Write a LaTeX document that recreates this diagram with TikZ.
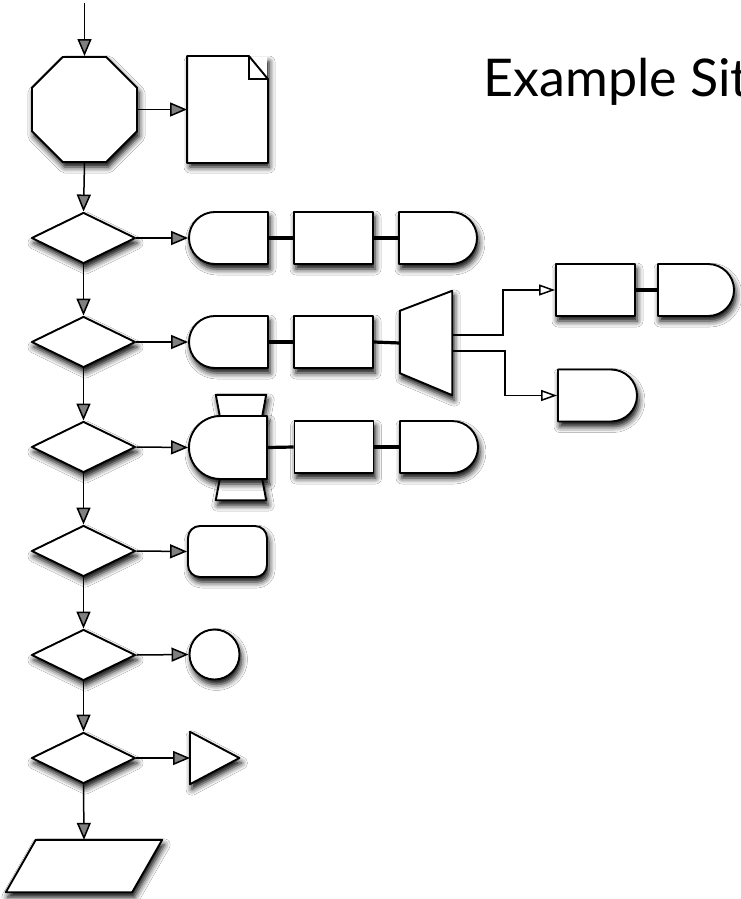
\documentclass[tikz,border=0pt]{standalone}
\usepackage{fontspec}
\setsansfont{Lato}
\usetikzlibrary{shapes.geometric, shapes.misc, arrows.meta, shadows.blur}

\tikzstyle{block} = [draw, fill=white, line width=1.9pt, inner sep=0pt, line join=round,
  blur shadow={shadow xshift=2pt, shadow yshift=-5pt, shadow blur radius=6pt, shadow opacity=100}]
\tikzstyle{unit} = [block, rectangle, minimum width=79pt, minimum height=52pt]
\tikzstyle{dleft} = [block, rounded rectangle, rounded rectangle east arc=none, minimum width=79pt, minimum height=52pt]
\tikzstyle{dright} = [block, rounded rectangle, rounded rectangle west arc=none, minimum width=78pt, minimum height=52pt]
\tikzstyle{decision} = [block, diamond, minimum width=104pt, minimum height=51pt]
\tikzstyle{frame} = [inner sep=0pt, draw=none]
\tikzstyle{flow} = [-{Triangle[length=17pt,width=14pt]}, line width=1.5pt]
\tikzstyle{branch} = [-{Triangle[open,length=16pt,width=11pt]}, line width=1.5pt]
\tikzstyle{link} = [line width=3.2pt]

\begin{document}
\begin{tikzpicture}[x=1pt, y=-1pt]
  \clip (0,0) rectangle (741,899);
  \fill[white] (0,0) rectangle (741,899);

  \node[anchor=base west, font=\sffamily\fontsize{52}{52}\selectfont] (title) at (480,96) {Example Site};

  % start
  \coordinate (start) at (84.5,3);
  \node[block, regular polygon, regular polygon sides=8, minimum size=113.7pt] (stop) at (84.5,109.5) {};
  \node[block, draw=none, minimum width=79pt, minimum height=105pt] (doc) at (227.5,109.5) {};
  \draw[line width=1.9pt, line join=round] (doc.north west) -- ([xshift=-19pt]doc.north east)
    -- ([yshift=-23pt]doc.north east) -- (doc.south east) -- (doc.south west) -- cycle;
  \draw[line width=1.3pt] ([xshift=-19pt]doc.north east) -- ([xshift=-19pt,yshift=-23pt]doc.north east)
    -- ([yshift=-23pt]doc.north east);

  % row 1
  \node[decision] (q1) at (83.5,238) {};
  \node[dleft] (r1a) at (228.5,238) {};
  \node[unit] (r1b) at (333.5,238) {};
  \node[dright] (r1c) at (438,238) {};

  % row 2
  \node[decision] (q2) at (83.5,342) {};
  \node[dleft] (r2a) at (228.5,342) {};
  \node[unit] (r2b) at (333.5,342) {};
  \node[frame, minimum width=52pt, minimum height=104pt] (mux) at (426,343) {};
  \draw[block] ([yshift=-20pt]mux.north west) -- (mux.north east) -- (mux.south east)
    -- ([yshift=22pt]mux.south west) -- cycle;
  \node[unit] (r2c) at (595.5,290) {};
  \node[dright, minimum width=76pt] (r2d) at (696,290) {};
  \node[dright, minimum width=79pt] (r2e) at (597.5,395.5) {};

  % row 3
  \node[decision] (q3) at (83.5,447) {};
  \node[frame, minimum width=50pt, minimum height=21pt] (fintop) at (241,405.5) {};
  \draw[block] (fintop.north west) -- (fintop.north east) -- ([xshift=-4pt]fintop.south east)
    -- ([xshift=4pt]fintop.south west) -- cycle;
  \node[frame, minimum width=50pt, minimum height=21pt] (finbot) at (241,489.5) {};
  \draw[block] ([xshift=4pt]finbot.north west) -- ([xshift=-4pt]finbot.north east)
    -- (finbot.south east) -- (finbot.south west) -- cycle;
  \node[dleft, minimum width=78pt, minimum height=63pt] (r3a) at (228,447.5) {};
  \node[unit] (r3b) at (334,447) {};
  \node[dright] (r3c) at (439,447) {};

  % row 4
  \node[decision] (q4) at (83.5,551) {};
  \node[block, rectangle, rounded corners=12pt, minimum width=79pt, minimum height=51pt] (r4a) at (227.5,551.5) {};

  % row 5
  \node[decision] (q5) at (83.5,655) {};
  \node[block, circle, minimum size=50pt] (r5a) at (214.5,654.5) {};

  % row 6
  \node[decision] (q6) at (83.5,758) {};
  \node[frame, minimum width=49pt, minimum height=52pt, anchor=west] (r6a) at (190,758) {};
  \draw[block] (r6a.north west) -- (r6a.east) -- (r6a.south west) -- cycle;

  % end
  \node[frame, minimum width=156pt, minimum height=52pt] (out) at (84,866) {};
  \draw[block] ([xshift=30pt]out.north west) -- (out.north east)
    -- ([xshift=-30pt]out.south east) -- (out.south west) -- cycle;

  % main line
  \draw[flow] (start) -- (stop.north);
  \draw[flow] (stop.east) -- (doc.west);
  \draw[flow] (stop.south) -- (q1.north);
  \draw[flow] (q1.south) -- (q2.north);
  \draw[flow] (q2.south) -- (q3.north);
  \draw[flow] (q3.south) -- (q4.north);
  \draw[flow] (q4.south) -- (q5.north);
  \draw[flow] (q5.south) -- (q6.north);
  \draw[flow] (q6.south) -- (out.north);

  % side arrows
  \draw[flow] (q1.east) -- (r1a.west);
  \draw[flow] (q2.east) -- (r2a.west);
  \draw[flow] (q3.east) -- (r3a.west);
  \draw[flow] (q4.east) -- (r4a.west);
  \draw[flow] (q5.east) -- (r5a.west);
  \draw[flow] (q6.east) -- (r6a.west);

  % links
  \draw[link] (r1a.east) -- (r1b.west);
  \draw[link] (r1b.east) -- (r1c.west);
  \draw[link] (r2a.east) -- (r2b.west);
  \draw[link] (r2b.east) -- (mux.west);
  \draw[link] (r2c.east) -- (r2d.west);
  \draw[link] (r3a.east) -- (r3b.west);
  \draw[link] (r3b.east) -- (r3c.west);

  % split
  \draw[branch] ([yshift=8pt]mux.east) -- ++(51,0) |- (r2c.west);
  \draw[branch] ([yshift=-8pt]mux.east) -- ++(53,0) |- (r2e.west);
\end{tikzpicture}
\end{document}
